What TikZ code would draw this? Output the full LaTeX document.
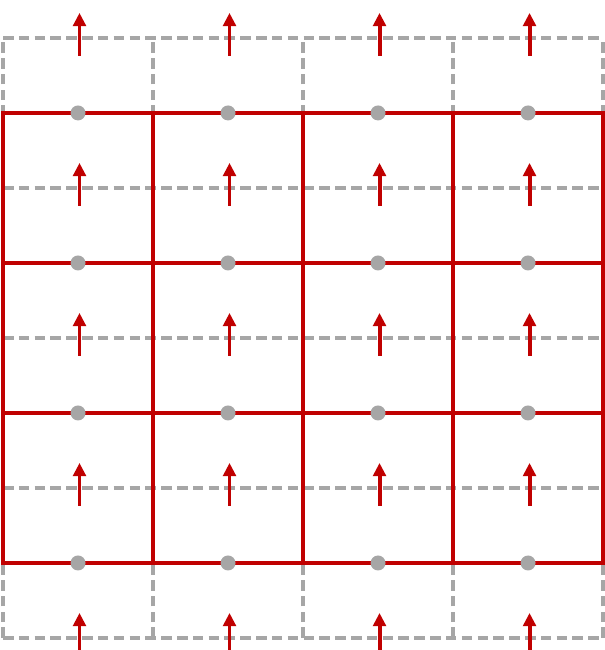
\documentclass[tikz,border=0pt]{standalone}
\usetikzlibrary{arrows.meta}
\definecolor{GridRed}{HTML}{C00000}
\definecolor{GhostGray}{HTML}{A6A6A6}

\begin{document}
\begin{tikzpicture}[
    x=2cm,
    y=2cm,
    redline/.style={draw=GridRed, line width=1.5pt},
    ghostline/.style={draw=GhostGray, line width=1.5pt, dash pattern=on 4pt off 2pt},
    dot/.style={circle, fill=GhostGray, inner sep=0pt, minimum size=0.2cm},
    flow/.style={draw=GridRed, line width=1.5pt, -{Triangle[length=5pt,width=4.8pt]}}
  ]
  \useasboundingbox (-0.02,-0.58) rectangle (4.007,3.753);
  \foreach \row in {-0.5,0.5,1.5,2.5,3.5}
    \draw[ghostline] (0,\row) -- (4,\row);
  \foreach \col in {0,...,4}
    \draw[ghostline] (\col,-0.5) -- (\col,3.5);
  \foreach \row in {1,2}
    \draw[redline] (0,\row) -- (4,\row);
  \foreach \col in {1,2,3}
    \draw[redline] (\col,0) -- (\col,3);
  \draw[redline] (0,0) rectangle (4,3);
  \foreach \col in {0,...,3}
    \foreach \row in {0,...,3}
      \node[dot] (d-\col-\row) at (\col+0.5,\row) {};
  \foreach \col in {0,...,3}
    \foreach \row in {-1,...,3} {
      \coordinate (t-\col-\row) at (\col+0.51,\row+0.38);
      \coordinate (h-\col-\row) at (\col+0.51,\row+0.667);
      \draw[flow] (t-\col-\row) -- (h-\col-\row);
    }
\end{tikzpicture}
\end{document}
